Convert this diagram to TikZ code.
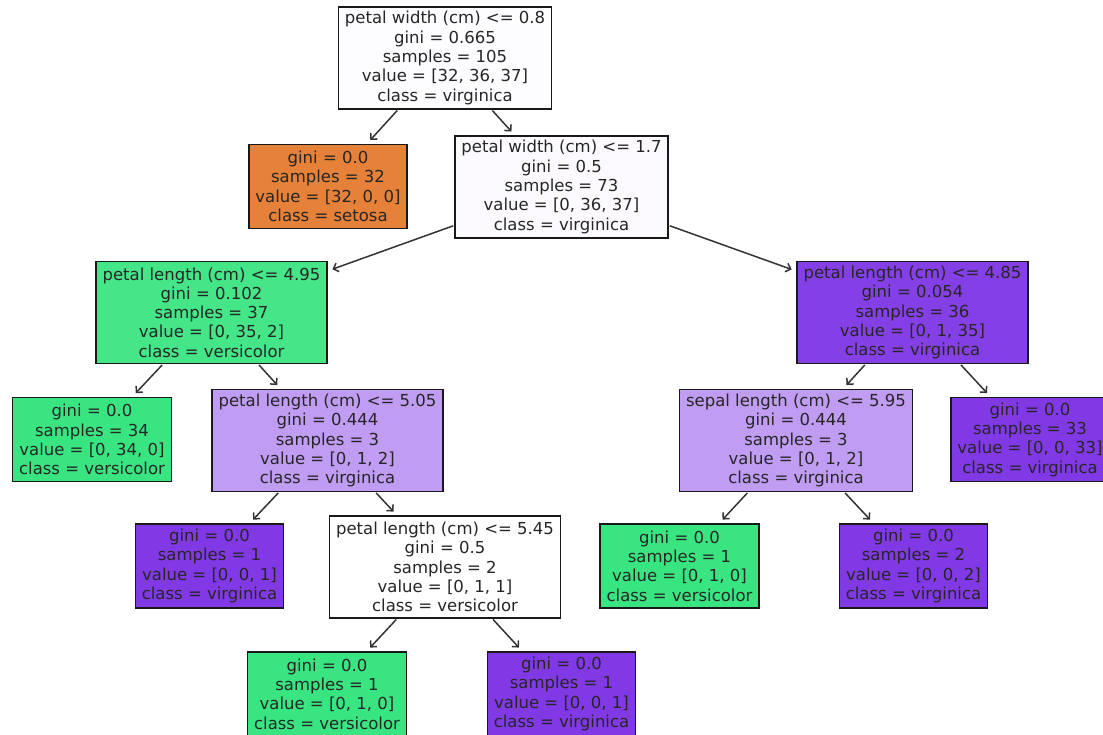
\documentclass[tikz,border=0pt]{standalone}
\usepackage{fontspec}
\setmainfont{DejaVu Sans}
\usetikzlibrary{arrows.meta}
\definecolor{cRoot}{RGB}{253,252,255}
\definecolor{cNtwo}{RGB}{252,250,254}
\definecolor{cSet}{RGB}{229,129,57}
\definecolor{cVer}{RGB}{57,229,129}
\definecolor{cVir}{RGB}{129,57,229}
\definecolor{cVerL}{RGB}{68,230,136}
\definecolor{cVirD}{RGB}{133,63,230}
\definecolor{cVirL}{RGB}{192,156,242}
\tikzset{
  box/.style={draw=black!90, line width=1.5pt, align=center, inner xsep=6.5pt, inner ysep=0pt,
    font=\fontsize{16.5}{19.3}\selectfont, text=black!85},
  split/.style={box, minimum height=102pt},
  leaf/.style={box, minimum height=84pt},
  edge/.style={line width=1.5pt, black!80, -{Straight Barb[length=4.5pt,width=9pt]}, shorten >=5pt, shorten <=1pt}
}
\begin{document}
\begin{tikzpicture}[x=1pt,y=-1pt]
\useasboundingbox (0,0) rectangle (1103,735);
\clip (0,0) rectangle (1103,735);
\node[split, fill=cRoot] (root) at (445,58) {petal width (cm) <= 0.8\\gini = 0.665\\samples = 105\\value = [32, 36, 37]\\class = virginica};
\node[leaf, fill=cSet] (setosa) at (328,186.5) {gini = 0.0\\samples = 32\\value = [32, 0, 0]\\class = setosa};
\node[split, fill=cNtwo] (n2) at (561.5,187) {petal width (cm) <= 1.7\\gini = 0.5\\samples = 73\\value = [0, 36, 37]\\class = virginica};
\node[split, fill=cVerL] (n3) at (211.5,312.5) {petal length (cm) <= 4.95\\gini = 0.102\\samples = 37\\value = [0, 35, 2]\\class = versicolor};
\node[split, fill=cVirD] (n4) at (912.5,312.5) {petal length (cm) <= 4.85\\gini = 0.054\\samples = 36\\value = [0, 1, 35]\\class = virginica};
\node[leaf, fill=cVer] (l34) at (92,439.5) {gini = 0.0\\samples = 34\\value = [0, 34, 0]\\class = versicolor};
\node[split, fill=cVirL] (n5) at (327.5,440.5) {petal length (cm) <= 5.05\\gini = 0.444\\samples = 3\\value = [0, 1, 2]\\class = virginica};
\node[split, fill=cVirL] (n6) at (796,440.5) {sepal length (cm) <= 5.95\\gini = 0.444\\samples = 3\\value = [0, 1, 2]\\class = virginica};
\node[leaf, fill=cVir] (l33) at (1030,439.5) {gini = 0.0\\samples = 33\\value = [0, 0, 33]\\class = virginica};
\node[leaf, fill=cVir] (lv1) at (209.5,566) {gini = 0.0\\samples = 1\\value = [0, 0, 1]\\class = virginica};
\node[split, fill=white] (n7) at (445,567) {petal length (cm) <= 5.45\\gini = 0.5\\samples = 2\\value = [0, 1, 1]\\class = versicolor};
\node[leaf, fill=cVer] (lve2) at (679.5,566) {gini = 0.0\\samples = 1\\value = [0, 1, 0]\\class = versicolor};
\node[leaf, fill=cVir] (lv2) at (913.5,566) {gini = 0.0\\samples = 2\\value = [0, 0, 2]\\class = virginica};
\node[leaf, fill=cVer] (b1) at (327,694) {gini = 0.0\\samples = 1\\value = [0, 1, 0]\\class = versicolor};
\node[leaf, fill=cVir] (b2) at (561.5,694) {gini = 0.0\\samples = 1\\value = [0, 0, 1]\\class = virginica};
\draw[edge] (root) -- (setosa);
\draw[edge] (root) -- (n2);
\draw[edge] (n2) -- (n3);
\draw[edge] (n2) -- (n4);
\draw[edge] (n3) -- (l34);
\draw[edge] (n3) -- (n5);
\draw[edge] (n4) -- (n6);
\draw[edge] (n4) -- (l33);
\draw[edge] (n5) -- (lv1);
\draw[edge] (n5) -- (n7);
\draw[edge] (n6) -- (lve2);
\draw[edge] (n6) -- (lv2);
\draw[edge] (n7) -- (b1);
\draw[edge] (n7) -- (b2);
\end{tikzpicture}
\end{document}
